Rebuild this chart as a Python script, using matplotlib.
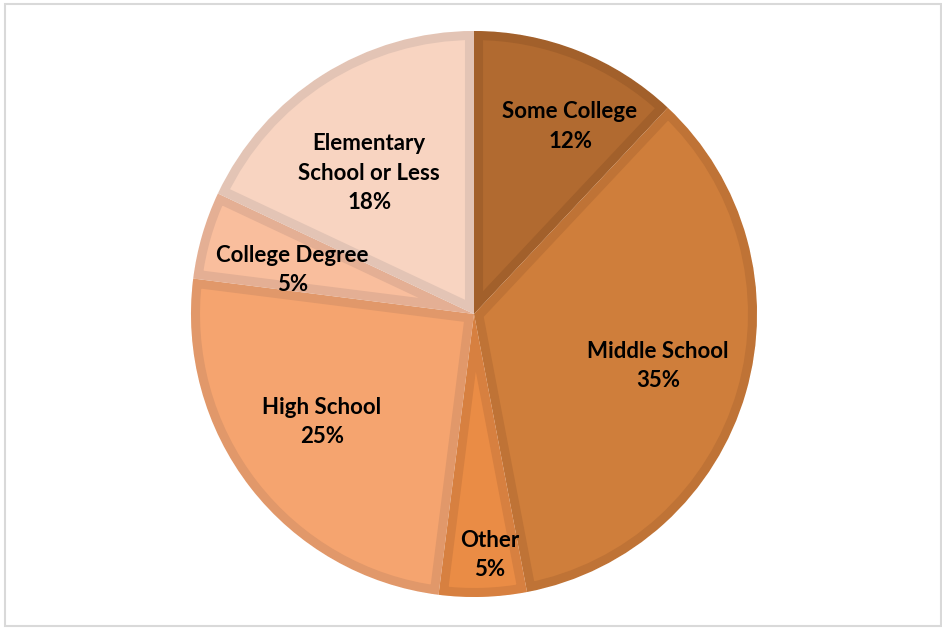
import matplotlib
matplotlib.use("Agg")
import matplotlib.pyplot as plt
from matplotlib.patches import Wedge, Rectangle
import numpy as np

categories = ["Some College", "Middle School", "Other", "High School",
              "College Degree", "Elementary\nSchool or Less"]
shares = [12, 35, 5, 25, 5, 18]
face_colors = ["#B16A30", "#CF7E3B", "#EA8C45", "#F5A46F", "#F9BE9D", "#F8D4C1"]
edge_colors = ["#A2602B", "#BF7336", "#D78040", "#E1986A", "#E4AF94", "#E3C4B5"]
# label placement: fraction of radius, and angular nudge from the slice middle
label_radius = [0.745, 0.675, 0.853, 0.66, 0.66, 0.62]
label_nudge = [-5.5, 0.4, 2.0, -2.4, 2.6, 4.3]

W, H, DPI = 942, 628, 100
fig = plt.figure(figsize=(W / DPI, H / DPI), dpi=DPI)
fig.patch.set_facecolor("white")

cx, cy, r_px = 474, 314, 283
S = 620
ax = fig.add_axes([(cx - S / 2) / W, (H - cy - S / 2) / H, S / W, S / H])
lim = S / 2 / r_px

wedges, _ = ax.pie(shares, colors=face_colors, startangle=90, counterclock=False,
                   radius=1.0, center=(0, 0), frame=True,
                   wedgeprops=dict(linewidth=0.6, edgecolor="#FFFFFF"))
ax.set_xlim(-lim, lim)
ax.set_ylim(-lim, lim)
ax.set_aspect("equal")
ax.axis("off")

# darker inner border on every slice: a thick outline clipped to its own wedge
for w, ec in zip(wedges, edge_colors):
    border = Wedge(w.center, w.r, w.theta1, w.theta2, facecolor="none",
                   edgecolor=ec, linewidth=13, zorder=w.get_zorder() + 0.1)
    ax.add_patch(border)
    border.set_clip_path(w)

font = dict(family=["Lato", "DejaVu Sans"], fontweight="bold", fontsize=16,
            color="black", ha="center", va="center", linespacing=1.5)

total = float(sum(shares))
start = 90.0
for name, val, rf, nudge in zip(categories, shares, label_radius, label_nudge):
    sweep = val / total * 360.0
    mid = np.deg2rad(start - sweep / 2 + nudge)
    start -= sweep
    ax.text(rf * np.cos(mid), rf * np.sin(mid), f"{name}\n{val}%",
            zorder=10, **font)

fig.add_artist(Rectangle((5 / W, 2 / H), (941 - 5) / W, (624 - 2) / H,
                         transform=fig.transFigure, fill=False,
                         edgecolor="#D9D9D9", linewidth=1.5))

fig.savefig("out.png", dpi=DPI, facecolor="white")
